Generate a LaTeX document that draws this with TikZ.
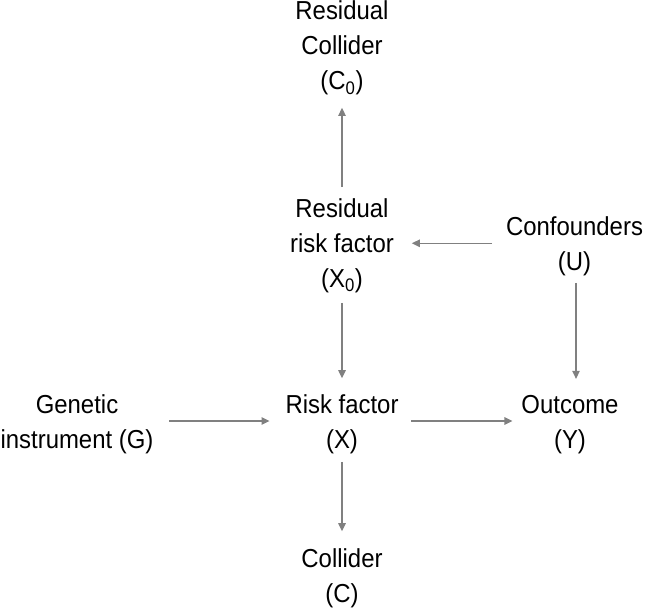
\documentclass[tikz,border=0pt]{standalone}
\usepackage{fontspec}
\setmainfont[FakeStretch=0.92]{Liberation Sans}
\usetikzlibrary{arrows.meta}
\definecolor{arrgray}{RGB}{128,128,128}
\tikzset{
  lbl/.style={align=center, inner sep=0pt, outer sep=0pt, anchor=base, font=\fontsize{26bp}{35bp}\selectfont, text=black},
  arr/.style={draw=arrgray, line width=1.2bp, -{Triangle[length=8bp,width=7.5bp]}}
}
\begin{document}
\begin{tikzpicture}[x=1bp,y=-1bp]
\useasboundingbox (0,0) rectangle (645,612);
\node[lbl] (c0) at (342,90) {Residual\\Collider\\(C\textsubscript{0})};
\node[lbl] (x0) at (342,287) {Residual\\risk factor\\(X\textsubscript{0})};
\node[lbl] (u) at (574.5,270) {Confounders\\(U)};
\node[lbl] (g) at (77,448) {Genetic\\instrument (G)};
\node[lbl] (x) at (342,448) {Risk factor\\(X)};
\node[lbl] (y) at (570,448) {Outcome\\(Y)};
\node[lbl] (c) at (342,602) {Collider\\(C)};
\draw[arr] ([yshift=11bp]x0.north) -- ([yshift=-12.5bp]c0.south);
\draw[arr] ([yshift=-10.5bp]x0.south) -- ([yshift=16bp]x.north);
\draw[arr] ([xshift=-14bp,yshift=2.5bp]u.west) -- ([xshift=18bp,yshift=2.5bp]x0.east |- u.west);
\draw[arr] ([xshift=16bp,yshift=2.75bp]g.east) -- ([xshift=-16bp,yshift=2.75bp]x.west |- g.east);
\draw[arr] ([xshift=13bp,yshift=2.75bp]x.east) -- ([xshift=-9bp,yshift=2.75bp]y.west |- x.east);
\draw[arr] ([yshift=-8.5bp]x.south) -- ([yshift=17bp]c.north);
\draw[arr] ([xshift=1.5bp,yshift=-7.5bp]u.south) -- ([xshift=1.5bp,yshift=16bp]u.south |- y.north);
\end{tikzpicture}
\end{document}
